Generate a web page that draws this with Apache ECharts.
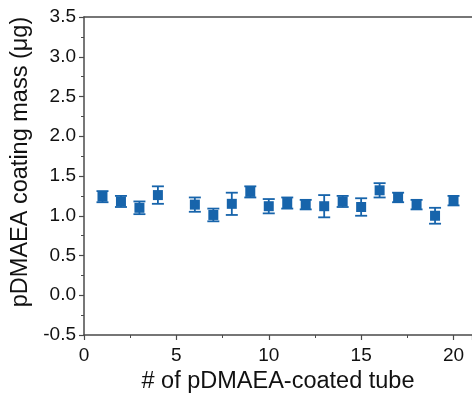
<!DOCTYPE html>
<html>
<head>
<meta charset="utf-8">
<script src="https://cdn.jsdelivr.net/npm/echarts@6/dist/echarts.min.js"></script>
<style>
  html, body { margin: 0; padding: 0; background: #fff; }
  #chart { width: 472px; height: 405px; }
</style>
</head>
<body>
<div id="chart"></div>
<script>
// Coating mass per tube (mean ± SD), tube #5 not measured
const tubes  = [1, 2, 3, 4, 6, 7, 8, 9, 10, 11, 12, 13, 14, 15, 16, 17, 18, 19, 20];
const means  = [1.24, 1.18, 1.10, 1.26, 1.14, 1.01, 1.15, 1.30, 1.12, 1.16, 1.14, 1.12, 1.18, 1.11, 1.32, 1.23, 1.14, 1.00, 1.19];
const errors = [0.07, 0.07, 0.08, 0.11, 0.09, 0.08, 0.14, 0.07, 0.09, 0.07, 0.06, 0.14, 0.07, 0.11, 0.09, 0.06, 0.06, 0.10, 0.06];

const xTicks = { min: 0, max: 21, interval: 5 };
const yTicks = { min: -0.5, max: 3.5, interval: 0.5 };

const BLUE = '#1764AB';
const AXIS = '#4a4a4a';
const FONT = '"Liberation Sans", Arial, sans-serif';

const points = tubes.map((t, i) => [t, means[i]]);
const bars = tubes.map((t, i) => [t, means[i] - errors[i], means[i] + errors[i]]);

const chart = echarts.init(document.getElementById('chart'));
chart.setOption({
  animation: false,
  grid: { left: 84, right: -6, top: 17, bottom: 70 },
  xAxis: [{
    type: 'value',
    min: xTicks.min, max: xTicks.max, interval: xTicks.interval,
    name: '# of pDMAEA-coated tube',
    nameLocation: 'middle', nameGap: 34,
    nameTextStyle: { fontFamily: FONT, fontSize: 23.5, color: '#111' },
    axisLine: { onZero: false, lineStyle: { color: AXIS, width: 1.5 } },
    axisTick: { show: true, length: 5, lineStyle: { color: AXIS, width: 1.2 } },
    minorTick: { show: true, splitNumber: 2, length: 3, lineStyle: { color: AXIS, width: 1 } },
    axisLabel: { fontFamily: FONT, fontSize: 19, color: '#111', margin: 11, showMaxLabel: false },
    splitLine: { show: false }
  }, {
    type: 'value', position: 'top',
    min: xTicks.min, max: xTicks.max,
    axisLine: { onZero: false, lineStyle: { color: AXIS, width: 1.5 } },
    axisTick: { show: false }, axisLabel: { show: false }, splitLine: { show: false }
  }],
  yAxis: {
    type: 'value',
    min: yTicks.min, max: yTicks.max, interval: yTicks.interval,
    name: 'pDMAEA coating mass (\u03bcg)',
    nameLocation: 'middle', nameGap: 39,
    nameTextStyle: { fontFamily: FONT, fontSize: 23.5, color: '#111', padding: [0, 0, 0, 28] },
    axisLine: { show: true, onZero: false, lineStyle: { color: AXIS, width: 1.5 } },
    axisTick: { show: true, length: 5, lineStyle: { color: AXIS, width: 1.2 } },
    minorTick: { show: true, splitNumber: 2, length: 3, lineStyle: { color: AXIS, width: 1 } },
    axisLabel: {
      fontFamily: FONT, fontSize: 19, color: '#111', margin: 8,
      formatter: v => v.toFixed(1)
    },
    splitLine: { show: false }
  },
  series: [{
    type: 'custom',
    data: bars,
    z: 3,
    renderItem: (params, api) => {
      const x = api.value(0);
      const lo = api.coord([x, api.value(1)]);
      const hi = api.coord([x, api.value(2)]);
      const hw = 6;
      const style = { stroke: BLUE, lineWidth: 1.8, fill: null };
      return {
        type: 'group',
        children: [
          { type: 'line', shape: { x1: lo[0], y1: lo[1], x2: hi[0], y2: hi[1] }, style },
          { type: 'line', shape: { x1: lo[0] - hw, y1: lo[1], x2: lo[0] + hw, y2: lo[1] }, style },
          { type: 'line', shape: { x1: hi[0] - hw, y1: hi[1], x2: hi[0] + hw, y2: hi[1] }, style }
        ]
      };
    }
  }, {
    type: 'scatter',
    data: points,
    symbol: 'rect',
    symbolSize: 10,
    z: 4,
    itemStyle: { color: BLUE, opacity: 1 }
  }]
});
</script>
</body>
</html>
